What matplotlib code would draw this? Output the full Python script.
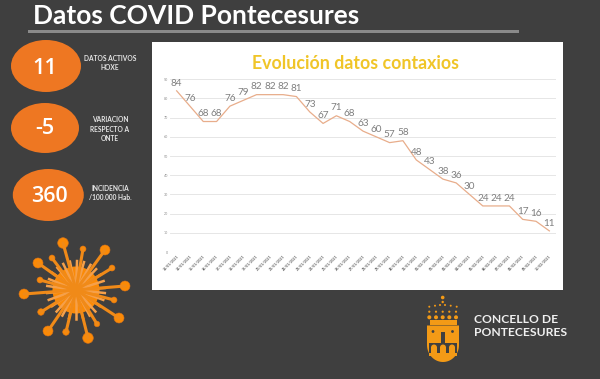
import numpy as np
import matplotlib
matplotlib.use("Agg")
import matplotlib.pyplot as plt
from matplotlib.patches import Ellipse, Circle, Rectangle, Polygon, Wedge

values = [84, 76, 68, 68, 76, 79, 82, 82, 82, 81, 73, 67, 71, 68, 63, 60, 57, 58, 48,
          43, 38, 36, 30, 24, 24, 24, 17, 16, 11]
dates = ["%02d/%02d/2021" % (d, 1 if d > 10 else 2) for d in list(range(13, 32)) + list(range(1, 11))]
y_ticks = list(range(0, 100, 10))

circle_values = ["11", "-5", "360"]
circle_captions = ["DATOS ACTIVOS\nHOXE", "VARIACION\nRESPECTO A\nONTE", "INCIDENCIA\n/100.000 Hab."]

# virus spikes, head position in px and head radius in px
head_x = [63, 83, 105, 112, 125, 114, 119, 97, 88, 66, 48, 41, 24, 40, 38, 52]
head_y = [243, 249, 250, 268, 286, 300, 318, 324, 338, 332, 331, 312, 294, 280, 263, 258]
head_r = [5.3, 3, 5, 3, 5, 3, 5, 2.8, 5.3, 3.3, 5, 3.3, 5, 3, 5, 3]

W, H = 600, 379
BG = "#3f3f3f"
ORANGE = "#ee7722"
VIRUS = "#fb8a06"

fig = plt.figure(figsize=(W / 100, H / 100), dpi=100, facecolor=BG)
plt.rcParams["font.family"] = ["Lato", "DejaVu Sans"]

# background layer in pixel coordinates
bg = fig.add_axes([0, 0, 1, 1])
bg.set_xlim(0, W)
bg.set_ylim(H, 0)
bg.axis("off")

bg.text(33, 16, "Datos COVID Pontecesures", color="white", fontsize=19, va="center", weight="bold")
bg.add_patch(Rectangle((28, 29.5), 491, 3.5, color="#8a8a8a", lw=0))
bg.add_patch(Rectangle((152, 42), 411, 248, color="white", lw=0))

# orange circles with their captions
for i, (cx, cy, w, h) in enumerate([(46, 66, 70, 52), (45, 128, 68, 50), (48.3, 195, 71, 52)]):
    bg.add_patch(Ellipse((cx, cy), w, h, color=ORANGE, lw=0))
text_x = [45, 45, 49]
text_y = [68, 129, 196.5]
for i in range(3):
    bg.text(text_x[i], text_y[i], circle_values[i], color="white", fontsize=15.5, ha="center", va="center",
            family=["Open Sans", "DejaVu Sans"], weight="semibold")
caption_y = [63.3, 129, 192.7]
for i in range(3):
    bg.text(110, caption_y[i], circle_captions[i], color="#e6e6e6", fontsize=4.8, ha="center",
            va="center", weight="bold", linespacing=1.35)

# virus
vx, vy = 76, 290
for a in np.arange(4, 360, 14):
    bg.plot([vx, vx + 29 * np.cos(np.radians(a))], [vy, vy - 29 * np.sin(np.radians(a))],
            color="#f5a04a", lw=1.8)
for ex, ey, r in zip(head_x, head_y, head_r):
    bg.plot([vx, ex], [vy, ey], color="#f08a18", lw=2.2, solid_capstyle="round")
    bg.add_patch(Circle((ex, ey), r, color=VIRUS, ec="#d9731a", lw=0.4))
bg.add_patch(Circle((vx, vy), 23.5, color=VIRUS, lw=0))

# crest
CREST = "#f39a16"
t = np.linspace(0, np.pi, 30)
shield_x = 443 + 16 * np.cos(t)
shield_y = 345 + 17 * np.sin(t)
bg.add_patch(Polygon([(427, 325.5), (459, 325.5)] + list(zip(shield_x, shield_y)), color=CREST, lw=0))
bg.add_patch(Rectangle((430, 320), 27, 4.7, color=CREST, lw=0))
bg.add_patch(Rectangle((440.5, 332), 4.5, 11, color=BG, lw=0))
bg.add_patch(Rectangle((429, 342.5), 28, 11, color=BG, lw=0))
bg.add_patch(Circle((433, 331.5), 1.4, color=BG, lw=0))
bg.add_patch(Circle((452.5, 331.5), 1.4, color=BG, lw=0))
for x0 in [434, 443, 452]:
    bg.add_patch(Rectangle((x0 - 3, 347), 6, 8, color=CREST, lw=0))
    bg.add_patch(Circle((x0, 347.5), 3, color=CREST, lw=0))
bg.add_patch(Rectangle((429, 353), 28, 2.5, color=CREST, lw=0))
for x0, y0, r in [(442.7, 297.5, 1.8), (442.7, 302, 1.2), (429.3, 306.7, 1), (435, 305.7, 1), (440, 305, 1),
                  (445, 305, 1), (450.7, 305.7, 1), (456.7, 306.7, 1),
                  (429.3, 311.7, 1.1), (436, 311.7, 1.1), (442.7, 311.7, 1.1), (449.3, 311.7, 1.1), (456, 311.7, 1.1),
                  (429.3, 317.3, 2), (436, 317.3, 2), (442.7, 317.3, 2), (449.3, 317.3, 2), (456, 317.3, 2)]:
    bg.add_patch(Circle((x0, y0), r, color=CREST, lw=0))
bg.text(474, 326, "CONCELLO DE\nPONTECESURES", color="#f0f0f0", fontsize=8.7, va="center",
        weight="bold", linespacing=1.3)

# chart, placed so its plot area falls where the reference has it
left, right, top, bottom = 170, 556, 79.3, 252
ax = fig.add_axes([left / W, 1 - bottom / H, (right - left) / W, (bottom - top) / H])
ax.patch.set_alpha(0)
x = np.arange(len(values))
ax.plot(x, values, color="#e8ad8b", lw=0.9)
ax.set_xlim(-0.5, len(values) - 0.5)
ax.set_ylim(0, 90)
ax.set_yticks(y_ticks)
ax.set_xticks(x)
ax.set_xticklabels(dates, rotation=45, ha="right", rotation_mode="anchor", fontsize=2.6, color="#666666", weight="bold")
ax.tick_params(axis="y", labelsize=2.6, labelcolor="#8c8c8c", length=0, pad=1.5)
ax.tick_params(axis="x", length=0, pad=1.5)
ax.grid(axis="y", color="#e6e6e6", lw=0.7)
ax.set_axisbelow(True)
for s in ax.spines.values():
    s.set_visible(False)
for xi, v in zip(x, values):
    ax.annotate(str(v), (xi, v), xytext=(0, 5.6), textcoords="offset points", ha="center", va="center",
                fontsize=7.2, color="#7f7f7f")
ax.text(0.4806, 1.094, "Evolución datos contaxios", transform=ax.transAxes, ha="center", va="center",
        color="#f0c528", fontsize=12.8, weight="bold")

fig.savefig("out.png", dpi=100, facecolor=BG)
